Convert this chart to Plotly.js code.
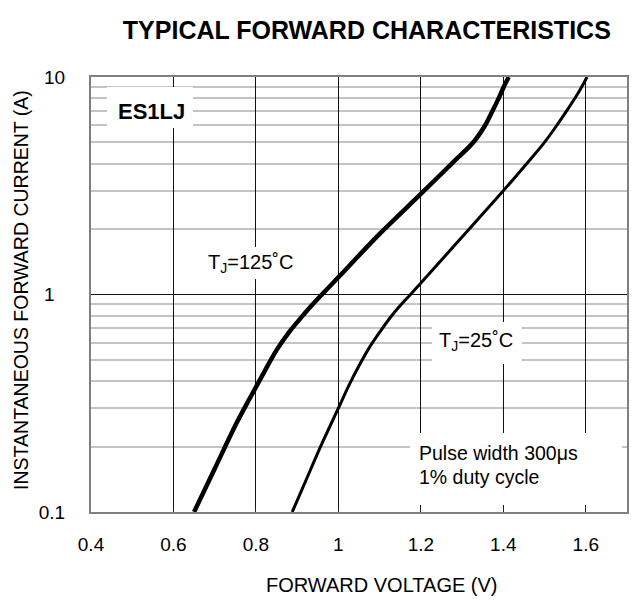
<!DOCTYPE html>
<html>
<head>
<meta charset="utf-8">
<script src="https://cdn.plot.ly/plotly-3.0.1.min.js"></script>
<style>html,body{margin:0;padding:0;background:#fff;}</style>
</head>
<body>
<div id="chart" style="width:638px;height:608px;"></div>
<script>
// Forward voltage (V) and instantaneous forward current (A)
const vf125 = [0.65, 0.70, 0.75, 0.78, 0.80, 0.82, 0.85, 0.88, 0.91, 0.935, 0.96, 1.0, 1.1, 1.2, 1.275, 1.327, 1.356, 1.374, 1.389, 1.401, 1.413];
const if125 = [0.1, 0.158, 0.25, 0.32, 0.375, 0.44, 0.555, 0.67, 0.785, 0.89, 1.0, 1.2, 1.9, 2.9, 4.0, 5.0, 6.0, 7.0, 8.0, 9.0, 10.0];
const vf25  = [0.888, 0.92, 0.96, 1.0, 1.025, 1.05, 1.075, 1.10, 1.125, 1.15, 1.175, 1.2, 1.25, 1.312, 1.4, 1.457, 1.496, 1.53, 1.554, 1.574, 1.59, 1.603];
const if25  = [0.1, 0.138, 0.206, 0.30, 0.38, 0.47, 0.57, 0.67, 0.78, 0.89, 1.0, 1.13, 1.44, 1.95, 3.0, 4.0, 4.9, 6.0, 7.0, 8.0, 9.0, 10.0];

const xTickVals = [0.4, 0.6, 0.8, 1.0, 1.2, 1.4, 1.6];
const xTickText = ['0.4', '0.6', '0.8', '1', '1.2', '1.4', '1.6'];
const yTickVals = [0.1, 1, 10];
const yTickText = ['0.1', '1\u2007', '10'];
const yMinorVals = [0.2, 0.3, 0.4, 0.5, 0.6, 0.7, 0.8, 0.9, 2, 3, 4, 5, 6, 7, 8, 9];

const FONT = 'Liberation Sans, Arial, sans-serif';

const traces = [
  {x: vf125, y: if125, mode: 'lines', line: {color: '#000', width: 4.5, shape: 'spline', smoothing: 0.8}, hoverinfo: 'skip', showlegend: false},
  {x: vf25, y: if25, mode: 'lines', line: {color: '#000', width: 3, shape: 'spline', smoothing: 0.8}, hoverinfo: 'skip', showlegend: false}
];

// white label backgrounds (paper coords, left/top anchored, size in px)
const bg = (x, y, w, h) => ({text: ' ', xref: 'paper', yref: 'paper', x, y, xanchor: 'left', yanchor: 'top',
  width: w, height: h, bgcolor: '#fff', borderpad: 0, borderwidth: 0, showarrow: false});
const label = (text, x, y, size, xanchor) => ({text, xref: 'paper', yref: 'paper', x, y,
  xanchor: xanchor || 'center', yanchor: 'middle', showarrow: false, font: {family: FONT, size, color: '#000'}});

const layout = {
  width: 638, height: 608,
  margin: {l: 91, r: 11, t: 77, b: 96},
  paper_bgcolor: '#fff', plot_bgcolor: '#fff',
  font: {family: FONT, size: 19, color: '#000'},
  title: {text: '<b>TYPICAL FORWARD CHARACTERISTICS</b>', font: {family: FONT, size: 25, color: '#000'},
          xref: 'container', yref: 'container', x: 0.575, y: 0.951, xanchor: 'center', yanchor: 'middle'},
  xaxis: {
    range: [0.4, 1.7], tickmode: 'array', tickvals: xTickVals, ticktext: xTickText,
    showgrid: true, gridcolor: '#111', gridwidth: 1, zeroline: false,
    showline: true, linecolor: '#808080', linewidth: 2, mirror: true,
    ticks: 'inside', ticklen: 5, tickcolor: '#222', tickwidth: 1,
    tickfont: {family: FONT, size: 19, color: '#000'}, ticklabelstandoff: 14
  },
  yaxis: {
    type: 'log', range: [-1, 1], tickmode: 'array', tickvals: yTickVals, ticktext: yTickText,
    showgrid: true, gridcolor: '#111', gridwidth: 1, zeroline: false,
    showline: true, linecolor: '#808080', linewidth: 2, mirror: true,
    ticks: '', tickfont: {family: FONT, size: 19, color: '#000'}, ticklabelstandoff: 20,
    minor: {tickmode: 'array', tickvals: yMinorVals, showgrid: true, gridcolor: '#c4c4c4', gridwidth: 2, ticks: ''}
  },
  annotations: [
    bg(0.030, 0.977, 86, 41),
    bg(0.209, 0.609, 94, 32),
    bg(0.636, 0.437, 90, 42),
    bg(0.595, 0.182, 212, 72),
    label('<b>ES1LJ</b>', 0.112, 0.920, 22),
    label('T<sub>J</sub>=125˚C', 0.297, 0.572, 20),
    label('T<sub>J</sub>=25˚C', 0.718, 0.391, 20),
    label('Pulse width 300μs', 0.608, 0.136, 19.5, 'left'),
    label('1% duty cycle', 0.608, 0.080, 19.5, 'left'),
    label('FORWARD VOLTAGE (V)', 0.543, -0.168, 20),
    Object.assign(label('INSTANTANEOUS FORWARD CURRENT (A)', -0.131, 0.510, 19.5), {textangle: -90})
  ]
};

Plotly.newPlot('chart', traces, layout, {displayModeBar: false, staticPlot: true});
</script>
</body>
</html>
